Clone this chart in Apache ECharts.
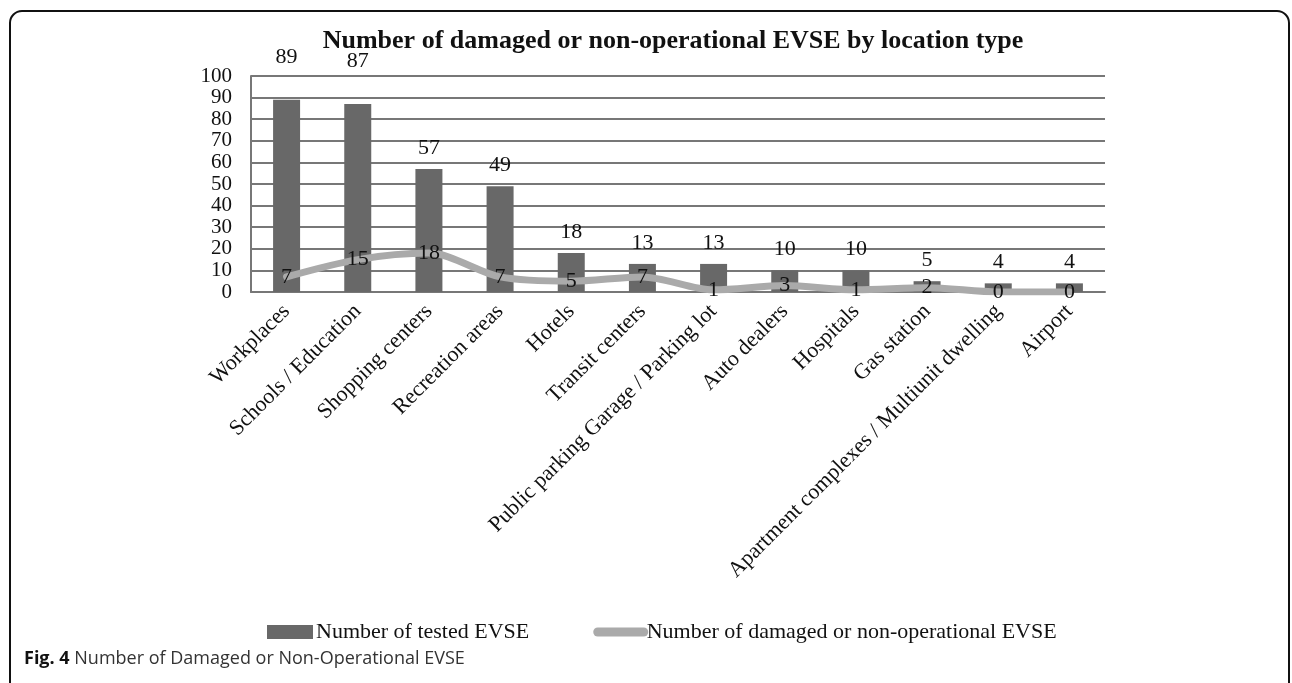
<!DOCTYPE html>
<html>
<head>
<meta charset="utf-8">
<script src="https://cdn.jsdelivr.net/npm/echarts@6/dist/echarts.min.js"></script>
<style>
  html, body { margin: 0; padding: 0; background: #fff; }
  #chart { width: 1292px; height: 683px; }
</style>
</head>
<body>
<div id="chart"></div>
<script>
// data
var locations = ['Workplaces', 'Schools / Education', 'Shopping centers', 'Recreation areas', 'Hotels',
  'Transit centers', 'Public parking Garage / Parking lot', 'Auto dealers', 'Hospitals', 'Gas station',
  'Apartment complexes / Multiunit dwelling', 'Airport'];
var testedEVSE = [89, 87, 57, 49, 18, 13, 13, 10, 10, 5, 4, 4];
var damagedEVSE = [7, 15, 18, 7, 5, 7, 1, 3, 1, 2, 0, 0];
var yTicks = { min: 0, max: 100, interval: 10 };

var serif = '"Liberation Serif", "Times New Roman", serif';
var barName = 'Number of tested EVSE';
var lineName = 'Number of damaged or non-operational EVSE';

var myChart = echarts.init(document.getElementById('chart'));

// the two tallest bar labels sit higher in the original
var barData = testedEVSE.map(function (v, i) {
  var d = { value: v };
  if (i < 2) d.label = { distance: 32 };
  return d;
});

var option = {
  backgroundColor: '#fff',
  animation: false,
  title: {
    text: 'Number of damaged or non-operational EVSE by location type',
    left: 668,
    top: 23,
    textAlign: 'center',
    textStyle: { fontFamily: serif, fontWeight: 'bold', fontSize: 26, color: '#111' }
  },
  legend: {
    data: [
      { name: barName, icon: 'rect' },
      { name: lineName, itemStyle: { opacity: 0 }, lineStyle: { width: 9, cap: 'round', color: '#aaaaaa' } }
    ],
    left: 262,
    top: 616,
    itemWidth: 46,
    itemHeight: 14,
    itemGap: 64,
    textStyle: { fontFamily: serif, fontSize: 22, color: '#111', padding: [0, 0, 0, -2] }
  },
  grid: { left: 251, right: 187, top: 76, bottom: 391, containLabel: false },
  xAxis: {
    type: 'category',
    data: locations,
    axisLine: { lineStyle: { color: '#777', width: 2 } },
    axisTick: { show: false },
    axisLabel: { rotate: 45, interval: 0, margin: 16, fontFamily: serif, fontSize: 22, color: '#111' }
  },
  yAxis: {
    type: 'value',
    min: yTicks.min,
    max: yTicks.max,
    interval: yTicks.interval,
    axisLine: { show: true, lineStyle: { color: '#777', width: 2 } },
    axisTick: { show: false },
    axisLabel: { margin: 19, fontFamily: serif, fontSize: 21, color: '#111' },
    splitLine: { lineStyle: { color: '#777', width: 2 } }
  },
  series: [{
    name: barName,
    type: 'bar',
    barWidth: 27,
    itemStyle: { color: '#686868' },
    label: { show: true, position: 'top', distance: 10, fontFamily: serif, fontSize: 22, color: '#111' },
    data: barData
  }, {
    name: lineName,
    type: 'line',
    smooth: 0.3,
    symbol: 'circle',
    symbolSize: 1,
    lineStyle: { color: '#aaaaaa', width: 7, cap: 'round' },
    itemStyle: { color: '#aaaaaa' },
    label: { show: true, position: 'inside', fontFamily: serif, fontSize: 22, color: '#111' },
    data: damagedEVSE
  }],
  graphic: [{
    type: 'rect',
    shape: { x: 10, y: 11, width: 1279, height: 720, r: 12 },
    style: { fill: 'none', stroke: '#111', lineWidth: 2 },
    silent: true
  }, {
    type: 'text',
    left: 24,
    top: 650,
    style: {
      text: '{b|Fig. 4} Number of Damaged or Non-Operational EVSE',
      font: '18px "Open Sans", sans-serif',
      fill: '#333',
      rich: {
        b: { fontFamily: '"Open Sans", sans-serif', fontWeight: 'bold', fontSize: 18, fill: '#111' }
      }
    }
  }]
};

myChart.setOption(option);
</script>
</body>
</html>
